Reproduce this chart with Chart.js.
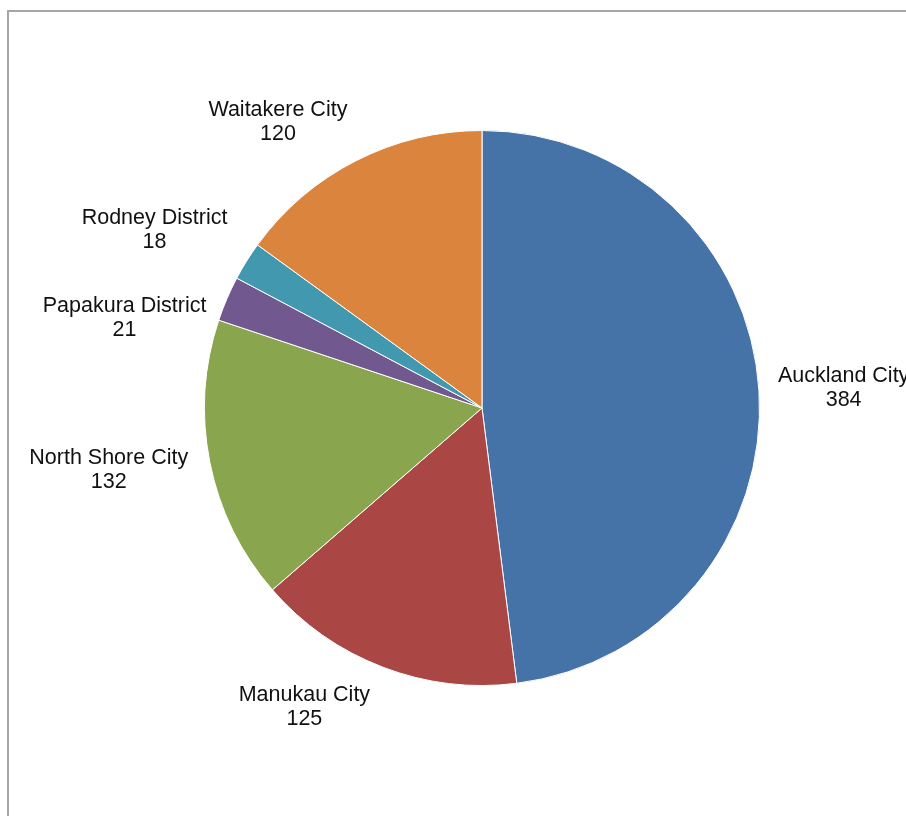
<!DOCTYPE html>
<html>
<head>
<meta charset="utf-8">
<title>Auckland region</title>
<script src="https://cdn.jsdelivr.net/npm/chart.js@4/dist/chart.umd.min.js"></script>
<style>
    html, body { margin: 0; padding: 0; background: #fff; overflow: hidden; }
    #wrap { position: relative; width: 906px; height: 816px; }
</style>
</head>
<body>
<div id="wrap">
    <canvas id="graficoPizza" width="906" height="816"></canvas>
</div>
<script>
// districts, clockwise from 12 o'clock
const regioes = ['Auckland City', 'Manukau City', 'North Shore City', 'Papakura District', 'Rodney District', 'Waitakere City'];
const valores = [384, 125, 132, 21, 18, 120];
const cores = ['#4572A7', '#AA4643', '#89A54E', '#71588F', '#4198AF', '#DB843D'];

// small nudges for labels that would otherwise collide / sit off
const ajusteRotuloX = [0, -6, -3, -3, -3, 0];
const ajusteRotuloY = [0, 0, 0, 36, -8, 0];

const fonteRotulo = '21.5px "Liberation Sans", Arial, sans-serif';
const alturaLinha = 24;
const distRotulo = 19;

// grey frame around the plot (only left and top edges are on screen)
const moldura = {
    id: 'moldura',
    beforeDraw(chart) {
        const ctx = chart.ctx;
        ctx.save();
        ctx.strokeStyle = '#a6a6a6';
        ctx.lineWidth = 2;
        ctx.beginPath();
        ctx.moveTo(8, chart.height);
        ctx.lineTo(8, 11);
        ctx.lineTo(chart.width, 11);
        ctx.stroke();
        ctx.restore();
    }
};

// category name + value outside each slice
const rotulos = {
    id: 'rotulos',
    afterDatasetsDraw(chart) {
        const ctx = chart.ctx;
        const meta = chart.getDatasetMeta(0);
        ctx.save();
        ctx.font = fonteRotulo;
        ctx.fillStyle = '#111111';
        ctx.textAlign = 'center';
        ctx.textBaseline = 'middle';
        meta.data.forEach(function(arco, i) {
            const meio = (arco.startAngle + arco.endAngle) / 2;
            const r = arco.outerRadius + distRotulo;
            const ax = arco.x + Math.cos(meio) * r;
            const ay = arco.y + Math.sin(meio) * r;
            const linhas = [regioes[i], String(chart.data.datasets[0].data[i])];
            const w = Math.max(...linhas.map(t => ctx.measureText(t).width));
            const h = alturaLinha * linhas.length;
            const cx = ax + Math.sign(Math.cos(meio)) * w / 2 + ajusteRotuloX[i];
            const cy = ay + Math.sin(meio) * h / 2 + ajusteRotuloY[i];
            ctx.fillText(linhas[0], cx, cy - alturaLinha / 2);
            ctx.fillText(linhas[1], cx, cy + alturaLinha / 2);
        });
        ctx.restore();
    }
};

var ctx = document.getElementById('graficoPizza').getContext('2d');
var graficoPizza = new Chart(ctx, {
    type: 'pie',
    data: {
        labels: regioes,
        datasets: [{
            data: valores,
            backgroundColor: cores,
            borderColor: '#ffffff',
            borderWidth: 1,
            hoverOffset: 0,
            offset: 0
        }]
    },
    options: {
        responsive: false,
        animation: false,
        events: [],
        rotation: 0,
        layout: {
            padding: { left: 204, right: 146, top: 130, bottom: 130 }
        },
        plugins: {
            legend: { display: false },
            tooltip: { enabled: false }
        }
    },
    plugins: [moldura, rotulos]
});
</script>
</body>
</html>
